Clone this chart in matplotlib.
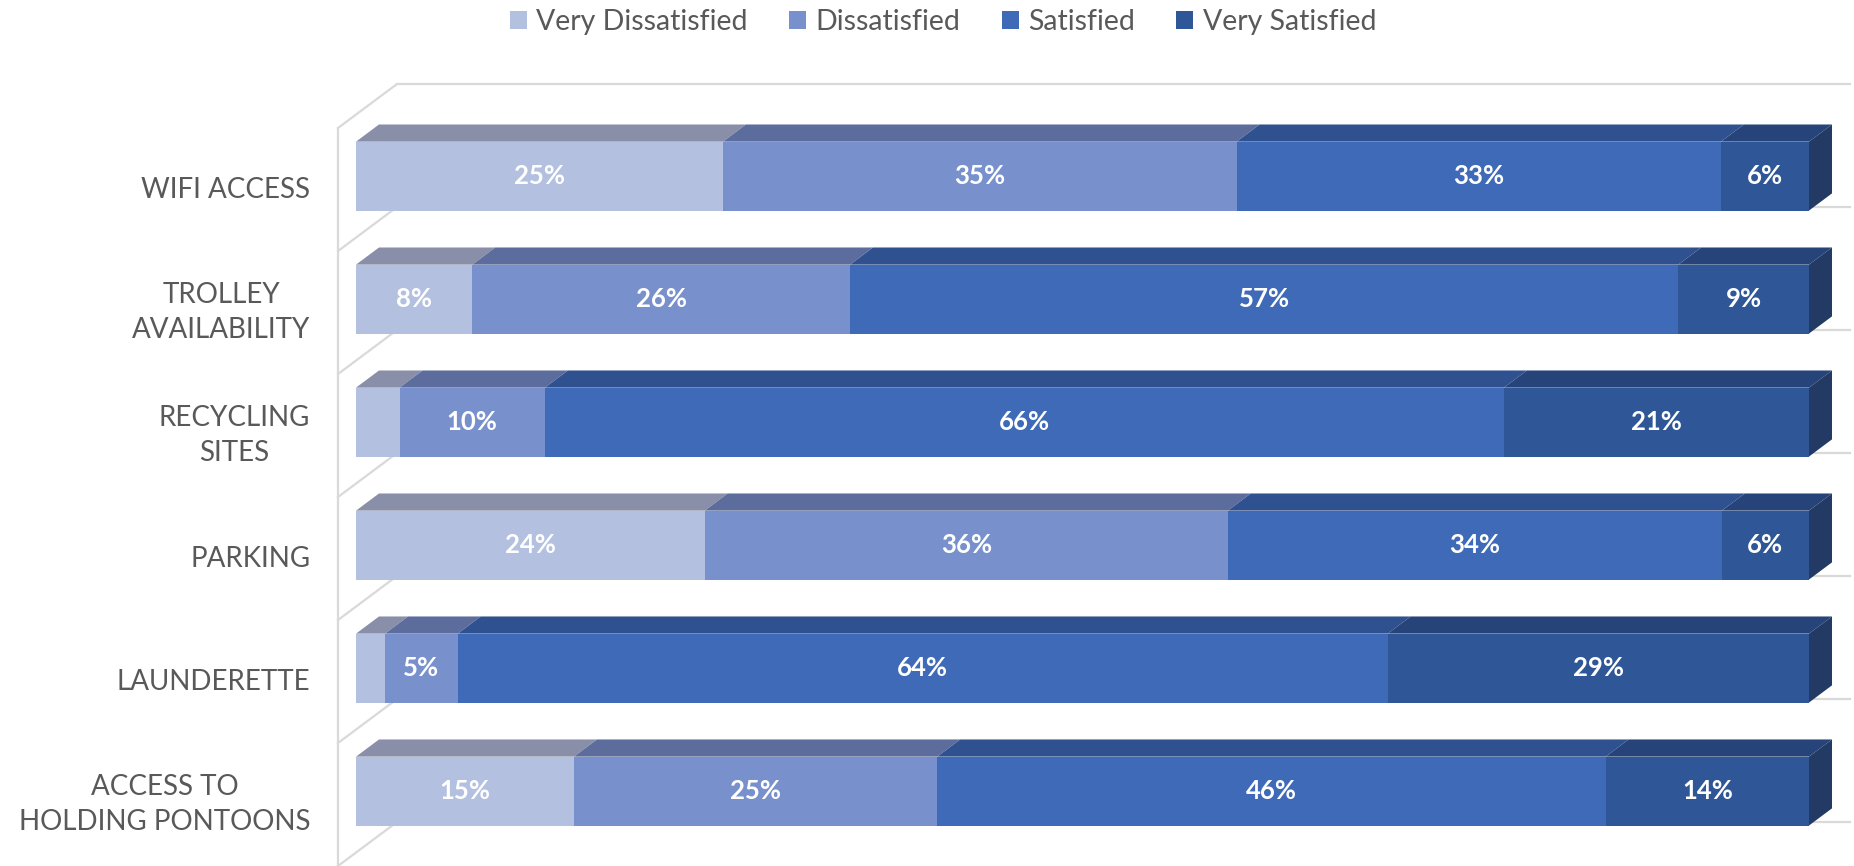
import matplotlib.pyplot as plt
from matplotlib.patches import Polygon, Patch

categories = ["WIFI ACCESS", "TROLLEY\nAVAILABILITY", "RECYCLING\nSITES",
              "PARKING", "LAUNDERETTE", "ACCESS TO\nHOLDING PONTOONS"]
series = ["Very Dissatisfied", "Dissatisfied", "Satisfied", "Very Satisfied"]
very_dissatisfied = [25, 8, 3, 24, 2, 15]
dissatisfied = [35, 26, 10, 36, 5, 25]
satisfied = [33, 57, 66, 34, 64, 46]
very_satisfied = [6, 9, 21, 6, 29, 14]

front_colors = ["#b3c0e0", "#7891cd", "#3f6ab7", "#2f5697"]
top_colors = ["#898fa8", "#5c6d9d", "#2f5190", "#26447a"]
side_color = "#223a64"
grid_color = "#d9d9d9"

plt.rcParams['font.family'] = ['Lato', 'DejaVu Sans']

fig = plt.figure(figsize=(18.54, 8.66), dpi=100)
ax = fig.add_axes([338 / 1854, 0, (1850 - 338) / 1854, (866 - 84) / 866])

# oblique depth of the whole "room" and of the bars (data units)
wall_dx, wall_dy = 4.06, -0.358
front_f, depth_f = 0.305, 0.39
bar_h = 0.56

ax.set_xlim(0, 100 + wall_dx)
ax.set_ylim(len(categories), wall_dy)
ax.axis('off')

# walls / gridlines
n = len(categories)
ax.plot([0, 0], [0, n], color=grid_color, lw=1.6, zorder=1, clip_on=False)
for k in range(n + 1):
    ax.plot([0, wall_dx], [k, k + wall_dy], color=grid_color, lw=1.6,
            zorder=1, clip_on=False)
    ax.plot([wall_dx, 100 + wall_dx], [k + wall_dy, k + wall_dy],
            color=grid_color, lw=1.6, zorder=1, clip_on=False)

data = [very_dissatisfied, dissatisfied, satisfied, very_satisfied]
ox, oy = front_f * wall_dx, front_f * wall_dy
ddx, ddy = depth_f * wall_dx, depth_f * wall_dy

for i in range(n):
    vals = [s[i] for s in data]
    total = sum(vals)
    yc = i + 0.5 + oy
    yt, yb = yc - bar_h / 2, yc + bar_h / 2
    left = 0
    for j, v in enumerate(vals):
        w = v / total * 100
        x0, x1 = left + ox, left + w + ox
        ax.add_patch(Polygon([(x0, yt), (x1, yt), (x1 + ddx, yt + ddy),
                              (x0 + ddx, yt + ddy)], closed=True,
                             facecolor=top_colors[j], edgecolor='none', zorder=2))
        ax.add_patch(Polygon([(x0, yt), (x1, yt), (x1, yb), (x0, yb)], closed=True,
                             facecolor=front_colors[j], edgecolor='none', zorder=3))
        if v >= 4:
            ax.text((x0 + x1) / 2, yc, f"{v}%", ha='center', va='center',
                    color='white', fontsize=18.5, fontweight='bold', zorder=5)
        left += w
    xr = 100 + ox
    ax.add_patch(Polygon([(xr, yt), (xr + ddx, yt + ddy), (xr + ddx, yb + ddy),
                          (xr, yb)], closed=True, facecolor=side_color,
                         edgecolor='none', zorder=3))
    ax.annotate(categories[i], xy=(0, i + 0.5), xytext=(-20, 0),
                textcoords='offset points', ha='right', va='center',
                multialignment='center', fontsize=20, color='#595959',
                linespacing=1.4, annotation_clip=False)

handles = [Patch(facecolor=c, edgecolor='none') for c in front_colors]
fig.legend(handles, series, loc='center', bbox_to_anchor=(943 / 1854, 1 - 22 / 866),
           ncol=4, frameon=False, fontsize=20.5, labelcolor='#595959',
           handlelength=0.6, handleheight=0.6, handletextpad=0.33,
           columnspacing=1.45)

fig.savefig("out.png", dpi=100)
